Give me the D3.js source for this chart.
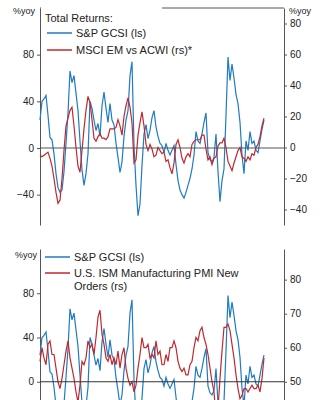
<!DOCTYPE html>
<html>
<head>
<meta charset="utf-8">
<script src="https://cdn.jsdelivr.net/npm/d3@7"></script>
<style>
  body { margin: 0; background: #fff; }
  svg text { font-family: "Liberation Sans", Arial, sans-serif; fill: #222; }
  .axis path, .axis line { stroke: #555; }
  .axis text { font-size: 10px; }
</style>
</head>
<body>
<div id="chart"></div>
<script>
// S&P GSCI total return, %yoy (same series in both panels)
const gsci = [24, 40, 42, 45, 28, 9, 7, -5, -22, -34, -38, -36, -20, 4, 30, 66, 56, 62, 47, 32,
  6, -19, -32, -22, -5, 40, 34, 24, 15, 21, 10, 36, 48, 34, 22, 38, 24, 20, 4, -8,
  -21, -12, 10, 24, 32, 62, 74, 2, -32, -58, -48, -15, 12, 20, 8, 15, 26, 32, 18, 10,
  4, 2, -4, 4, -2, -6, -2, 2, -14, -28, -36, -40, -43, -38, -32, -26, -18, -6, 14, 6,
  4, 12, 22, 30, -4, -10, -12, -8, 12, -20, -46, -28, -18, 28, 78, 58, 72, 60, 46, 38,
  22, -6, -22, 6, -2, 14, 4, 6, -2, -4, 6, 16, 24];

// MSCI EM vs ACWI relative return, %yoy (right scale, top panel)
const emVsAcwi = [-5, -6, -5, -4, -3, -7, -12, -20, -29, -36, -34, -20, -2, 14, 19, 24, 26, 14, 0, -12,
  -16, -2, 12, 24, 33, 29, 18, 6, 4, 7, 9, 6, 6, 5, 7, 12, 12, 12, 13, 18,
  14, 8, 20, 27, 32, 26, 16, -10, -8, 8, 16, 23, 14, 2, -2, 2, -1, -6, -5, 0,
  -2, -4, -3, -9, -8, -13, -17, -10, 2, 5, 0, -7, -10, -6, -4, -6, 2, 4, 5, 5,
  5, 8, 8, -1, -8, -6, -11, -7, -6, 1, 3, 3, 6, 0, -9, -12, -15, -10, -6, -2,
  0, -6, -7, -9, -6, -8, -4, -5, 0, 2, 7, 14, 19];

// U.S. ISM Manufacturing PMI New Orders (right scale, bottom panel)
const ismNewOrders = [56, 60, 57, 55, 61, 62, 58, 58, 54, 50, 48, 51, 55, 59, 62, 57, 54, 51, 47, 44,
  49, 56, 55, 57, 62, 60, 61, 58, 63, 69, 71, 64, 61, 57, 56, 58, 55, 57, 55, 59,
  54, 58, 60, 54, 51, 49, 50, 47, 49, 54, 58, 63, 60, 60, 61, 57, 58, 57, 62, 58,
  59, 55, 55, 58, 56, 60, 60, 62, 60, 56, 54, 53, 54, 52, 52, 55, 56, 60, 63, 62,
  65, 66, 63, 61, 58, 54, 50, 47, 40, 42, 51, 59, 66, 66, 67, 65, 61, 57, 52, 48,
  45, 46, 48, 48, 47, 48, 49, 48, 48, 49, 47, 51, 57];

const topLeftTicks = [80, 40, 0, -40];
const topRightTicks = [80, 60, 40, 20, 0, -20, -40];
const botLeftTicks = [80, 40, 0];
const botRightTicks = [80, 70, 60, 50];

const blue = "#1f7bc2";
const red = "#c0282f";

const w = 324, h = 400;
const left = 40, right = 284;

const svg = d3.select("#chart").append("svg")
  .attr("width", w)
  .attr("height", h);

const x = d3.scaleLinear()
  .domain([0, gsci.length - 1])
  .range([left, 264]);

// scales, upper panel
const yTL = d3.scaleLinear().domain([-66, 120]).range([225, 8]);
const yTR = d3.scaleLinear().domain([-50, 90]).range([225, 8]);
// scales, lower panel (runs off the bottom edge)
const yBL = d3.scaleLinear().domain([-40, 120]).range([426, 249]);
const yBR = d3.scaleLinear().domain([37, 89]).range([426, 249]);

const line = y => d3.line().x((d, i) => x(i)).y(d => y(d));

function drawAxes(g, yl, yr, lt, rt) {
  g.append("g").attr("class", "axis")
    .attr("transform", "translate(" + left + ",0)")
    .call(d3.axisLeft(yl).tickValues(lt).tickSize(3).tickPadding(3).tickSizeOuter(0));
  g.append("g").attr("class", "axis")
    .attr("transform", "translate(" + right + ",0)")
    .call(d3.axisRight(yr).tickValues(rt).tickSize(3).tickPadding(3).tickSizeOuter(0));
}

// ---- upper panel ----
const upper = svg.append("g");
drawAxes(upper, yTL, yTR, topLeftTicks, topRightTicks);
upper.append("line")
  .attr("x1", left).attr("x2", right)
  .attr("y1", yTL.range()[1]).attr("y2", yTL.range()[1])
  .attr("stroke", "#555");

upper.append("path").datum(gsci)
  .attr("d", line(yTL)).attr("fill", "none").attr("stroke", blue).attr("stroke-width", 1.2);
upper.append("path").datum(emVsAcwi)
  .attr("d", line(yTR)).attr("fill", "none").attr("stroke", red).attr("stroke-width", 1.2);
upper.append("line")
  .attr("x1", left).attr("x2", right)
  .attr("y1", yTL(0)).attr("y2", yTL(0))
  .attr("stroke", "#555").attr("stroke-width", 1.2);

upper.append("text").attr("x", 35).attr("y", 14).attr("text-anchor", "end")
  .attr("font-size", 9).text("%yoy");
upper.append("text").attr("x", 289).attr("y", 14)
  .attr("font-size", 9).text("%yoy");

// legend, its white box hides the left part of the frame top
const lg1 = upper.append("g");
lg1.append("rect").attr("x", 41).attr("y", 6).attr("width", 121).attr("height", 20).attr("fill", "#fff");
lg1.append("text").attr("x", 45).attr("y", 22).attr("font-size", 11).text("Total Returns:");
[["S&P GCSI (ls)", blue], ["MSCI EM vs ACWI (rs)*", red]].forEach((d, i) => {
  const yy = 33 + i * 17;
  lg1.append("line").attr("x1", 47).attr("x2", 72).attr("y1", yy).attr("y2", yy)
    .attr("stroke", d[1]).attr("stroke-width", 1.5);
  lg1.append("text").attr("x", 76).attr("y", yy + 4).attr("font-size", 11).text(d[0]);
});

// ---- lower panel ----
const lower = svg.append("g");
drawAxes(lower, yBL, yBR, botLeftTicks, botRightTicks);

lower.append("path").datum(gsci)
  .attr("d", line(yBL)).attr("fill", "none").attr("stroke", blue).attr("stroke-width", 1.2);
lower.append("path").datum(ismNewOrders)
  .attr("d", line(yBR)).attr("fill", "none").attr("stroke", red).attr("stroke-width", 1.2);
lower.append("line")
  .attr("x1", left).attr("x2", right)
  .attr("y1", yBL(0)).attr("y2", yBL(0))
  .attr("stroke", "#333").attr("stroke-width", 1.2);

lower.append("text").attr("x", 37).attr("y", 258).attr("text-anchor", "end")
  .attr("font-size", 9).text("%yoy");

const lg2 = lower.append("g");
lg2.append("line").attr("x1", 45).attr("x2", 70).attr("y1", 257).attr("y2", 257)
  .attr("stroke", blue).attr("stroke-width", 1.5);
lg2.append("text").attr("x", 74).attr("y", 261).attr("font-size", 11).text("S&P GCSI (ls)");
lg2.append("line").attr("x1", 45).attr("x2", 70).attr("y1", 273).attr("y2", 273)
  .attr("stroke", red).attr("stroke-width", 1.5);
lg2.append("text").attr("x", 74).attr("y", 277).attr("font-size", 11).text("U.S. ISM Manufacturing PMI New");
lg2.append("text").attr("x", 74).attr("y", 290).attr("font-size", 11).text("Orders (rs)");
</script>
</body>
</html>
